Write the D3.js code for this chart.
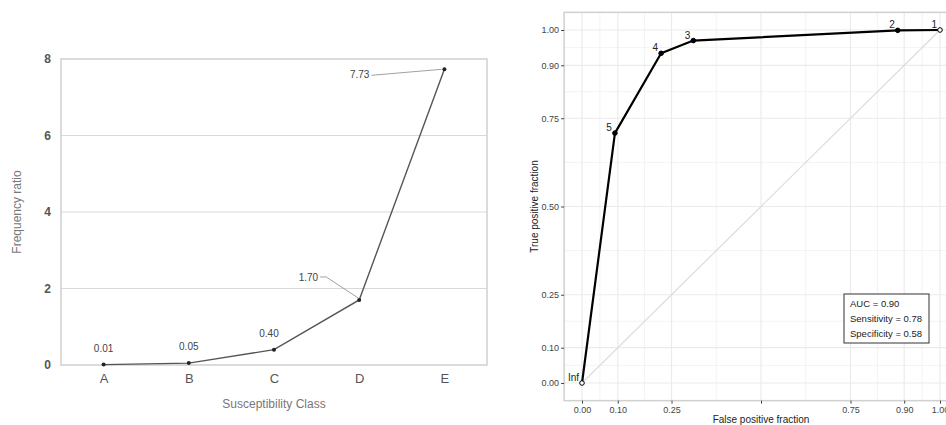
<!DOCTYPE html>
<html>
<head>
<meta charset="utf-8">
<script src="https://cdn.jsdelivr.net/npm/d3@7"></script>
<style>
  body { margin: 0; background: #fff; }
  svg { display: block; font-family: "Liberation Sans", Arial, sans-serif; }
</style>
</head>
<body>
<div id="chart-area"></div>
<script>
// Datos: panel izquierdo
const classes = ["A", "B", "C", "D", "E"];
const freqRatio = [0.01, 0.05, 0.40, 1.70, 7.73];
const freqTicks = [0, 2, 4, 6, 8];

// Datos: curva ROC
const rocLabels = ["Inf", "5", "4", "3", "2", "1"];
const fpf = [0, 0.092, 0.221, 0.311, 0.882, 1];
const tpf = [0, 0.708, 0.934, 0.970, 0.999, 1];
const rocBreaks = [0, 0.1, 0.25, 0.5, 0.75, 0.9, 1];
const rocMinor = [0.05, 0.175, 0.375, 0.625, 0.825, 0.95];
const statsText = ["AUC = 0.90", "Sensitivity = 0.78", "Specificity = 0.58"];

const svg = d3.select("#chart-area")
    .append("svg")
    .attr("width", 946)
    .attr("height", 425);

// ---------- Panel izquierdo ----------
const left = { x0: 61, x1: 487, y0: 59, y1: 365 };

const xCat = d3.scalePoint().domain(classes).range([left.x0, left.x1]).padding(0.5);
const yFr = d3.scaleLinear().domain([0, 8]).range([left.y1, left.y0]);

const gL = svg.append("g");

// rejilla
gL.selectAll(".grid")
    .data(freqTicks.filter(d => d > 0 && d < 8))
    .enter().append("line")
    .attr("x1", left.x0).attr("x2", left.x1)
    .attr("y1", d => yFr(d)).attr("y2", d => yFr(d))
    .attr("stroke", "#d9d9d9").attr("stroke-width", 1);

// marco
gL.append("rect")
    .attr("x", left.x0).attr("y", left.y0)
    .attr("width", left.x1 - left.x0).attr("height", left.y1 - left.y0)
    .attr("fill", "none").attr("stroke", "#cfcfcf").attr("stroke-width", 1.5);

// ejes
const yAxisL = gL.append("g")
    .attr("transform", `translate(${left.x0},0)`)
    .call(d3.axisLeft(yFr).tickValues(freqTicks).tickFormat(d3.format("d")).tickSize(0).tickPadding(10));
yAxisL.select(".domain").remove();
yAxisL.selectAll("text").attr("fill", "#555").style("font-size", "12px").style("font-weight", "bold");

const xAxisL = gL.append("g")
    .attr("transform", `translate(0,${left.y1})`)
    .call(d3.axisBottom(xCat).tickSize(0).tickPadding(9));
xAxisL.select(".domain").remove();
xAxisL.selectAll("text").attr("fill", "#555").style("font-size", "13px");

gL.append("text")
    .attr("transform", `translate(21,${(left.y0 + left.y1) / 2}) rotate(-90)`)
    .attr("text-anchor", "middle")
    .attr("fill", "#777").style("font-size", "12px")
    .text("Frequency ratio");

gL.append("text")
    .attr("x", (left.x0 + left.x1) / 2).attr("y", 408)
    .attr("text-anchor", "middle")
    .attr("fill", "#777").style("font-size", "12px")
    .text("Susceptibility Class");

// línea
const frData = classes.map((c, i) => ({ c, v: freqRatio[i] }));
gL.append("path")
    .datum(frData)
    .attr("fill", "none").attr("stroke", "#555").attr("stroke-width", 1.4)
    .attr("d", d3.line().x(d => xCat(d.c)).y(d => yFr(d.v)));

gL.selectAll(".pt")
    .data(frData)
    .enter().append("circle")
    .attr("cx", d => xCat(d.c)).attr("cy", d => yFr(d.v))
    .attr("r", 2).attr("fill", "#222");

// etiquetas de valor (desplazamiento respecto al punto y línea guía)
const labelOffset = {
    A: { dx: 0, dy: -13, lead: false },
    B: { dx: 0, dy: -13, lead: false },
    C: { dx: -5, dy: -13, lead: false },
    D: { dx: -27, dy: -23, lead: true },
    E: { dx: -44, dy: 5, lead: true }
};

frData.forEach(d => {
    const o = labelOffset[d.c];
    const px = xCat(d.c), py = yFr(d.v);
    if (o.lead) {
        const tx = px + o.dx, ty = py + o.dy;
        gL.append("path")
            .attr("fill", "none").attr("stroke", "#888").attr("stroke-width", 0.8)
            .attr("d", d.c === "D"
                ? `M${tx - 12},${ty} L${tx - 6},${ty} L${px - 1},${py - 2}`
                : `M${tx - 29},${ty + 1} L${px - 3},${py}`);
        gL.append("text")
            .attr("x", d.c === "D" ? tx - 14 : tx - 31)
            .attr("y", ty + 4)
            .attr("text-anchor", "end")
            .attr("fill", "#444").style("font-size", "10px")
            .text(d3.format(".2f")(d.v));
    } else {
        gL.append("text")
            .attr("x", px + o.dx).attr("y", py + o.dy)
            .attr("text-anchor", "middle")
            .attr("fill", "#444").style("font-size", "10px")
            .text(d3.format(".2f")(d.v));
    }
});

// ---------- Panel derecho: ROC ----------
const xR = d3.scaleLinear().domain([0, 1]).range([582, 940]);
const yR = d3.scaleLinear().domain([0, 1]).range([383, 30]);
const pad = 0.05;
const panel = {
    x0: xR(-pad), x1: xR(1 + pad), y0: yR(1 + pad), y1: yR(-pad)
};

const gR = svg.append("g");

// rejilla menor y mayor
gR.selectAll(".vminor").data(rocMinor).enter().append("line")
    .attr("x1", d => xR(d)).attr("x2", d => xR(d))
    .attr("y1", panel.y0).attr("y2", panel.y1)
    .attr("stroke", "#f3f3f3").attr("stroke-width", 1);
gR.selectAll(".hminor").data(rocMinor).enter().append("line")
    .attr("y1", d => yR(d)).attr("y2", d => yR(d))
    .attr("x1", panel.x0).attr("x2", panel.x1)
    .attr("stroke", "#f3f3f3").attr("stroke-width", 1);
gR.selectAll(".vmajor").data(rocBreaks).enter().append("line")
    .attr("x1", d => xR(d)).attr("x2", d => xR(d))
    .attr("y1", panel.y0).attr("y2", panel.y1)
    .attr("stroke", "#ebebeb").attr("stroke-width", 1.2);
gR.selectAll(".hmajor").data(rocBreaks).enter().append("line")
    .attr("y1", d => yR(d)).attr("y2", d => yR(d))
    .attr("x1", panel.x0).attr("x2", panel.x1)
    .attr("stroke", "#ebebeb").attr("stroke-width", 1.2);

// diagonal de referencia
gR.append("line")
    .attr("x1", xR(0)).attr("y1", yR(0))
    .attr("x2", xR(1)).attr("y2", yR(1))
    .attr("stroke", "#dcdcdc").attr("stroke-width", 1.2);

// marco
gR.append("rect")
    .attr("x", panel.x0).attr("y", panel.y0)
    .attr("width", panel.x1 - panel.x0).attr("height", panel.y1 - panel.y0)
    .attr("fill", "none").attr("stroke", "#d0d0d0").attr("stroke-width", 1.5);

// ejes
const fmt2 = d3.format(".2f");
const yAxisR = gR.append("g")
    .attr("transform", `translate(${panel.x0},0)`)
    .call(d3.axisLeft(yR).tickValues(rocBreaks).tickFormat(fmt2).tickSize(3).tickPadding(2));
yAxisR.select(".domain").remove();
yAxisR.selectAll("line").attr("stroke", "#444");
yAxisR.selectAll("text").attr("fill", "#444").style("font-size", "9px");

const xAxisR = gR.append("g")
    .attr("transform", `translate(0,${panel.y1})`)
    .call(d3.axisBottom(xR).tickValues(rocBreaks)
        .tickFormat(d => d === 0.5 ? "" : fmt2(d)).tickSize(3).tickPadding(3));
xAxisR.select(".domain").remove();
xAxisR.selectAll("line").attr("stroke", "#444");
xAxisR.selectAll("text").attr("fill", "#444").style("font-size", "9px");

gR.append("text")
    .attr("x", (xR(0) + xR(1)) / 2).attr("y", 423)
    .attr("text-anchor", "middle")
    .attr("fill", "#222").style("font-size", "10px")
    .text("False positive fraction");

gR.append("text")
    .attr("transform", `translate(538,${(yR(0) + yR(1)) / 2}) rotate(-90)`)
    .attr("text-anchor", "middle")
    .attr("fill", "#222").style("font-size", "10px")
    .text("True positive fraction");

// curva ROC
const rocData = fpf.map((f, i) => ({ f, t: tpf[i], lab: rocLabels[i] }));
gR.append("path")
    .datum(rocData)
    .attr("fill", "none").attr("stroke", "#000").attr("stroke-width", 2.2)
    .attr("stroke-linejoin", "round")
    .attr("d", d3.line().x(d => xR(d.f)).y(d => yR(d.t)));

gR.selectAll(".rocpt")
    .data(rocData)
    .enter().append("circle")
    .attr("cx", d => xR(d.f)).attr("cy", d => yR(d.t))
    .attr("r", 2.3)
    .attr("fill", d => (d.lab === "Inf" || d.lab === "1") ? "#fff" : "#000")
    .attr("stroke", "#000").attr("stroke-width", 1);

gR.selectAll(".roclab")
    .data(rocData)
    .enter().append("text")
    .attr("x", d => xR(d.f) - 3)
    .attr("y", d => yR(d.t) - 2)
    .attr("text-anchor", "end")
    .attr("fill", "#222").style("font-size", "10px")
    .text(d => d.lab);

// caja de estadísticas
const box = gR.append("g").attr("transform", "translate(844,294)");
box.append("rect")
    .attr("width", 85).attr("height", 49)
    .attr("fill", "#fff").attr("stroke", "#333").attr("stroke-width", 1);
box.selectAll("text")
    .data(statsText)
    .enter().append("text")
    .attr("x", 6)
    .attr("y", (d, i) => 13 + i * 15)
    .attr("fill", "#222").style("font-size", "9.5px")
    .text(d => d);
</script>
</body>
</html>
